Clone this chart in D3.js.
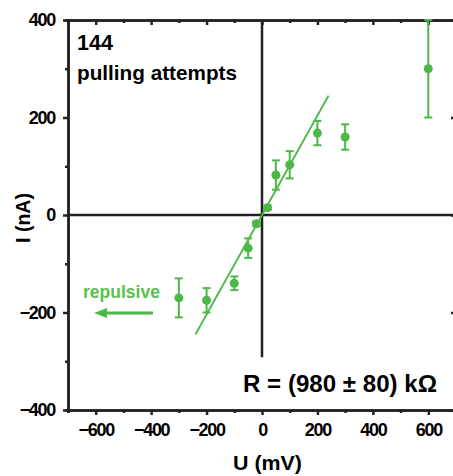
<!DOCTYPE html>
<html>
<head>
<meta charset="utf-8">
<script src="https://cdn.jsdelivr.net/npm/d3@7"></script>
<style>
	body { margin: 0; background: #fff; }
	text { font-family: "Liberation Sans", Arial, sans-serif; font-weight: bold; }
</style>
</head>
<body>
<div class="graphic"></div>
<script>
// measured points, U in mV, I in nA, error = half bar height
var voltages = [-300, -200, -100, -50, -20, 20, 50, 100, 200, 300, 600]
var currents = [-170, -175, -140, -68, -18, 15, 82, 103, 168, 160, 300]
var errors = [40, 25, 14, 20, 5, 5, 30, 28, 25, 26, 100]

var fitRange = [-240, 240]
var resistance = 980 // kOhm
var majorTicksX = [-600, -400, -200, 0, 200, 400, 600]
var majorTicksY = [-400, -200, 0, 200, 400]
var minorTicksX = [-700, -500, -300, -100, 100, 300, 500, 700]
var minorTicksY = [-300, -100, 100, 300]

var width = 453
var height = 476
var green = '#4cb848'
var dark = '#222'

var svg = d3.select('.graphic').append('svg')
	.attr('width', width)
	.attr('height', height)

var x = d3.scaleLinear().domain([-700, 700]).range([68, 456])
var y = d3.scaleLinear().domain([-400, 400]).range([410, 20])

function styleAxis(g) {
	g.select('.domain').attr('stroke', dark).attr('stroke-width', 2.5)
	g.selectAll('.tick line').attr('stroke', dark).attr('stroke-width', 2.5)
	g.selectAll('.tick text').attr('fill', '#000').style('font-size', '18px').style('letter-spacing', '-1.3px')
}

// bottom
svg.append('g').attr('transform', 'translate(0,' + y(-400) + ')')
	.call(d3.axisBottom(x).tickValues(majorTicksX).tickSizeInner(5).tickSizeOuter(0).tickPadding(8))
	.call(styleAxis)
svg.append('g').attr('transform', 'translate(0,' + y(-400) + ')')
	.call(d3.axisBottom(x).tickValues(minorTicksX).tickSize(3).tickFormat(''))
	.call(styleAxis)
// left
svg.append('g').attr('transform', 'translate(' + x(-700) + ',0)')
	.call(d3.axisLeft(y).tickValues(majorTicksY).tickSizeInner(5).tickSizeOuter(0).tickPadding(8))
	.call(styleAxis)
svg.append('g').attr('transform', 'translate(' + x(-700) + ',0)')
	.call(d3.axisLeft(y).tickValues(minorTicksY).tickSize(3).tickFormat(''))
	.call(styleAxis)
// top, ticks inward
svg.append('g').attr('transform', 'translate(0,' + y(400) + ')')
	.call(d3.axisTop(x).tickValues(majorTicksX).tickSizeInner(-5).tickSizeOuter(0).tickFormat(''))
	.call(styleAxis)
svg.append('g').attr('transform', 'translate(0,' + y(400) + ')')
	.call(d3.axisTop(x).tickValues(minorTicksX).tickSize(-3).tickFormat(''))
	.call(styleAxis)
// right, ticks inward
svg.append('g').attr('transform', 'translate(' + x(700) + ',0)')
	.call(d3.axisRight(y).tickValues(majorTicksY).tickSizeInner(-5).tickSizeOuter(0).tickFormat(''))
	.call(styleAxis)
svg.append('g').attr('transform', 'translate(' + x(700) + ',0)')
	.call(d3.axisRight(y).tickValues(minorTicksY).tickSize(-3).tickFormat(''))
	.call(styleAxis)

// zero lines
svg.append('line')
	.attr('x1', x(-700)).attr('x2', x(700))
	.attr('y1', y(0)).attr('y2', y(0))
	.attr('stroke', dark).attr('stroke-width', 2.5)
svg.append('line')
	.attr('x1', x(0)).attr('x2', x(0))
	.attr('y1', y(400)).attr('y2', y(-292))
	.attr('stroke', dark).attr('stroke-width', 2.5)

// fit line
svg.append('line')
	.attr('x1', x(fitRange[0])).attr('y1', y(fitRange[0] / resistance * 1000))
	.attr('x2', x(fitRange[1])).attr('y2', y(fitRange[1] / resistance * 1000))
	.attr('stroke', green).attr('stroke-width', 2)

var data = voltages.map(function(u, i) { return { u: u, i: currents[i], e: errors[i] } })

var pts = svg.append('g').selectAll('g').data(data).enter().append('g')
	.attr('stroke', green).attr('fill', green)

pts.append('line')
	.attr('x1', function(d) { return x(d.u) }).attr('x2', function(d) { return x(d.u) })
	.attr('y1', function(d) { return y(d.i - d.e) }).attr('y2', function(d) { return y(d.i + d.e) })
	.attr('stroke-width', 2)
pts.selectAll('.cap').data(function(d) { return [[d.u, d.i - d.e], [d.u, d.i + d.e]] })
	.enter().append('line')
	.attr('x1', function(d) { return x(d[0]) - 4 }).attr('x2', function(d) { return x(d[0]) + 4 })
	.attr('y1', function(d) { return y(d[1]) }).attr('y2', function(d) { return y(d[1]) })
	.attr('stroke-width', 2)
pts.append('circle')
	.attr('cx', function(d) { return x(d.u) })
	.attr('cy', function(d) { return y(d.i) })
	.attr('r', 4.5)
	.attr('stroke', 'none')

// labels
svg.append('text').attr('x', 77).attr('y', 50).style('font-size', '22px')
	.attr('textLength', 36).attr('lengthAdjust', 'spacingAndGlyphs').text('144')
svg.append('text').attr('x', 77).attr('y', 80).style('font-size', '21px')
	.attr('textLength', 160).attr('lengthAdjust', 'spacingAndGlyphs').text('pulling attempts')

svg.append('text').attr('x', 83).attr('y', 298).attr('fill', '#5cbf50')
	.style('font-size', '18px')
	.attr('textLength', 77).attr('lengthAdjust', 'spacingAndGlyphs').text('repulsive')
svg.append('line')
	.attr('x1', 153).attr('x2', 104).attr('y1', 313).attr('y2', 313)
	.attr('stroke', green).attr('stroke-width', 3)
svg.append('path')
	.attr('d', 'M94,313 L107,308 L107,318 Z')
	.attr('fill', green)

svg.append('text').attr('x', 243).attr('y', 392)
	.style('font-size', '24px')
	.attr('textLength', 194).attr('lengthAdjust', 'spacingAndGlyphs')
	.text('R = (980 \u00b1 80) k\u03a9')

svg.append('text').attr('x', 233).attr('y', 470)
	.style('font-size', '20px')
	.attr('textLength', 69).attr('lengthAdjust', 'spacingAndGlyphs').text('U (mV)')
svg.append('text').attr('transform', 'translate(30,243) rotate(-90)')
	.style('font-size', '20px')
	.attr('textLength', 50).attr('lengthAdjust', 'spacingAndGlyphs').text('I (nA)')
</script>
</body>
</html>
